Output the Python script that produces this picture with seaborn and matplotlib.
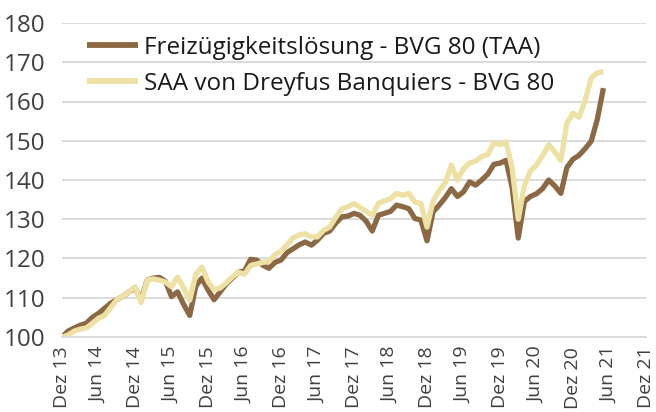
import numpy as np
import pandas as pd
import matplotlib
matplotlib.use("Agg")
import matplotlib.pyplot as plt
import seaborn as sns

tick_labels = ["Dez 13", "Jun 14", "Dez 14", "Jun 15", "Dez 15", "Jun 16", "Dez 16",
               "Jun 17", "Dez 17", "Jun 18", "Dez 18", "Jun 19", "Dez 19", "Jun 20",
               "Dez 20", "Jun 21", "Dez 21"]

series_names = ["Freizügigkeitslösung - BVG 80 (TAA)", "SAA von Dreyfus Banquiers - BVG 80"]

taa = [100, 101.5, 102.3, 103, 103.5, 105, 106, 107.3, 108.6, 109.5,
       110.3, 111.5, 112.5, 109.5, 114.5, 115, 115.2, 114.2, 110.3, 111.5,
       108.3, 105.5, 113, 115, 112, 109.5, 111.5, 113.5, 115, 116.5,
       116.8, 119.8, 119.6, 118.3, 117.5, 119, 119.6, 121.5, 122.5, 123.5,
       124.2, 123.4, 124.7, 126.4, 127, 129, 130.6, 130.8, 131.5, 131,
       129.5, 127, 131, 131.5, 132, 133.6, 133.2, 132.7, 130.2, 129.8,
       124.5, 131.9, 133.6, 135.5, 137.8, 135.8, 137, 139.5, 138.7, 140,
       141.5, 144, 144.3, 145, 138, 125.2, 134.5, 135.8, 136.5, 137.8,
       140, 138.5, 136.6, 143.2, 145.3, 146.3, 148, 149.9, 155.5, 163.4]

saa = [100, 100.5, 101.5, 102, 102.3, 103.5, 104.8, 105.5, 107.5, 109.5,
       110.3, 111.5, 112.8, 108.8, 114.5, 114.8, 114.5, 114, 112.8, 115.3,
       112.5, 109.4, 116, 117.8, 114.1, 112, 112.5, 113.8, 115.3, 116.5,
       116, 118.2, 118.6, 119, 119.2, 121, 121.8, 123.5, 125.3, 126,
       126.3, 125.5, 125.5, 127.2, 128, 130.5, 132.7, 133.2, 134, 133,
       132, 131, 134, 134.7, 135.2, 136.6, 136.1, 136.6, 134.4, 134,
       128, 134.6, 137.3, 139.3, 143.8, 140, 142.9, 144.3, 144.8, 146,
       146.5, 149.5, 149, 149.7, 143, 130, 138.5, 142.3, 143.8, 146.2,
       149, 147.2, 145, 154.5, 157, 156, 160.3, 166, 167.3, 167.6]

months = list(range(len(taa)))

df = pd.DataFrame({
    "Monat": months * 2,
    "Wert": taa + saa,
    "Serie": [series_names[0]] * len(taa) + [series_names[1]] * len(saa),
})

sns.set_style("white")
plt.rcParams["font.family"] = ["Open Sans", "DejaVu Sans"]

fig = plt.figure(figsize=(6.56, 4.12), dpi=100)
ax = fig.add_axes([62 / 656, 1 - 337 / 412, (646 - 62) / 656, (337 - 23) / 412])

sns.lineplot(data=df, x="Monat", y="Wert", hue="Serie", hue_order=series_names,
             palette=["#8B6944", "#EEE1A4"], linewidth=3.8, ax=ax,
             solid_capstyle="butt", solid_joinstyle="round")

ax.set_xlim(0, 96)
ax.set_ylim(100, 180)
ax.set_yticks(np.arange(100, 181, 10))
ax.set_xticks(np.arange(0, 97, 6))
ax.set_xticklabels(tick_labels, rotation=90)
ax.set_xlabel("")
ax.set_ylabel("")
ax.grid(axis="y", color="#D9D9D9", linewidth=1.3)
ax.set_axisbelow(True)
for s in ["left", "right", "top"]:
    ax.spines[s].set_visible(False)
ax.spines["bottom"].set_color("#D9D9D9")
ax.spines["bottom"].set_linewidth(1.3)
ax.tick_params(axis="x", length=5, color="#D9D9D9", width=1.3, labelsize=14,
               labelcolor="#404040", pad=2)
ax.tick_params(axis="y", length=0, labelsize=17.5, labelcolor="#404040", pad=12)

leg = ax.legend(loc="upper left", bbox_to_anchor=(0.043, 0.96), frameon=False,
                fontsize=17.5, handlelength=2.1, handletextpad=0.25, labelspacing=0.5,
                borderaxespad=0, borderpad=0)
for line in leg.get_lines():
    line.set_linewidth(4.2)
for t in leg.get_texts():
    t.set_color("#1a1a1a")

fig.savefig("out.png", dpi=100)
